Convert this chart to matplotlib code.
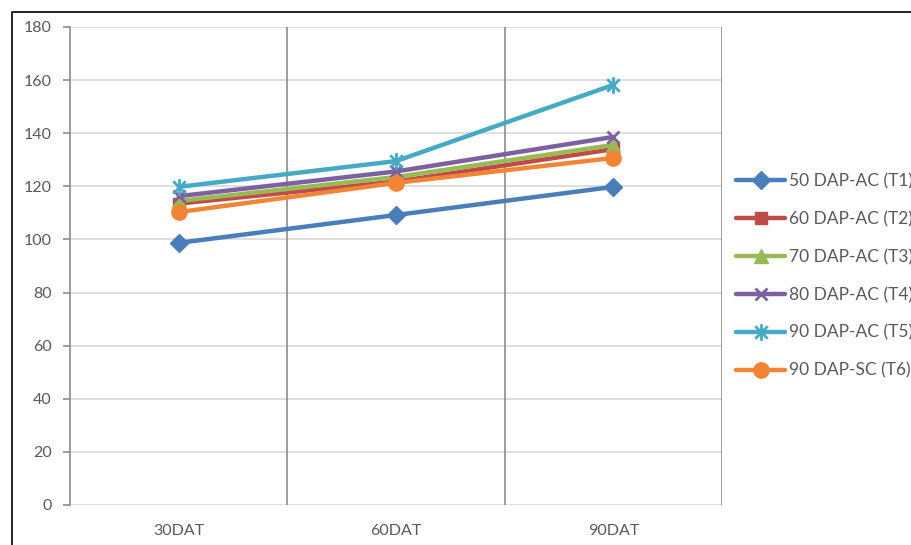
import matplotlib
matplotlib.use("Agg")
import matplotlib.pyplot as plt
from matplotlib.path import Path
from matplotlib.lines import Line2D

categories = ["30DAT", "60DAT", "90DAT"]
series_names = ["50 DAP-AC (T1)", "60 DAP-AC (T2)", "70 DAP-AC (T3)",
                "80 DAP-AC (T4)", "90 DAP-AC (T5)", "90 DAP-SC (T6)"]
t1 = [98.7, 109.2, 119.8]
t2 = [113.5, 121.8, 134.0]
t3 = [114.5, 123.5, 135.6]
t4 = [116.3, 125.6, 138.6]
t5 = [119.8, 129.5, 158.2]
t6 = [110.3, 121.3, 130.7]
values = [t1, t2, t3, t4, t5, t6]
yticks = [0, 20, 40, 60, 80, 100, 120, 140, 160, 180]

colors = ["#4A7EBB", "#BE4B48", "#98B954", "#7D60A0", "#46AAC5", "#F08536"]

star = Path([(0, -1), (0, 1), (-0.75, -0.75), (0.75, 0.75), (-0.75, 0.75), (0.75, -0.75)],
            [Path.MOVETO, Path.LINETO, Path.MOVETO, Path.LINETO, Path.MOVETO, Path.LINETO])
markers = ["D", "s", "^", "x", star, "o"]
msizes = [9, 9, 10, 9, 12, 11]

plt.rcParams['font.family'] = ['Lato', 'DejaVu Sans']

fig = plt.figure(figsize=(9.12, 5.45), dpi=100)
ax = fig.add_axes([70/912, 1-505/545, (722-70)/912, (505-27)/545])

x = list(range(len(categories)))
for vals, name, c, m, ms in zip(values, series_names, colors, markers, msizes):
    ax.plot(x, vals, color=c, lw=3.2, marker=m, markersize=ms,
            markeredgewidth=2 if m in ("x",) or m is star else 1,
            markerfacecolor=c, markeredgecolor=c, label=name, solid_capstyle='round')

ax.set_xlim(-0.5, 2.5)
ax.set_ylim(0, 180)
ax.set_yticks(yticks)
ax.set_xticks(x)
ax.set_xticklabels(categories)
for yv in yticks:
    ax.axhline(yv, color="#D9D9D9", lw=1.2, zorder=0)
for xv in [0.5, 1.5, 2.5]:
    ax.axvline(xv, color="#8C8C8C", lw=1.2, zorder=0)

for s in ["top", "right", "bottom"]:
    ax.spines[s].set_visible(False)
ax.spines["left"].set_color("#8C8C8C")
ax.spines["left"].set_linewidth(1.2)
ax.tick_params(axis="y", length=5, width=1.2, color="#8C8C8C", labelsize=11.5,
               labelcolor="#595959", pad=8)
ax.tick_params(axis="x", length=0, labelsize=11.5, labelcolor="#595959", pad=14)

leg = fig.legend(loc="center left", bbox_to_anchor=(736/912, 1-276/545),
                 frameon=False, fontsize=12.5, handlelength=2.85, handletextpad=0.2,
                 labelspacing=1.25, borderpad=0, borderaxespad=0)
for t in leg.get_texts():
    t.set_color("#595959")

# outer border of the chart area
fig.add_artist(Line2D([12/912, 12/912, 1.0], [0, 1-12/545, 1-12/545],
                      transform=fig.transFigure, color="black", lw=1.2))

fig.savefig("out.png", dpi=100)
